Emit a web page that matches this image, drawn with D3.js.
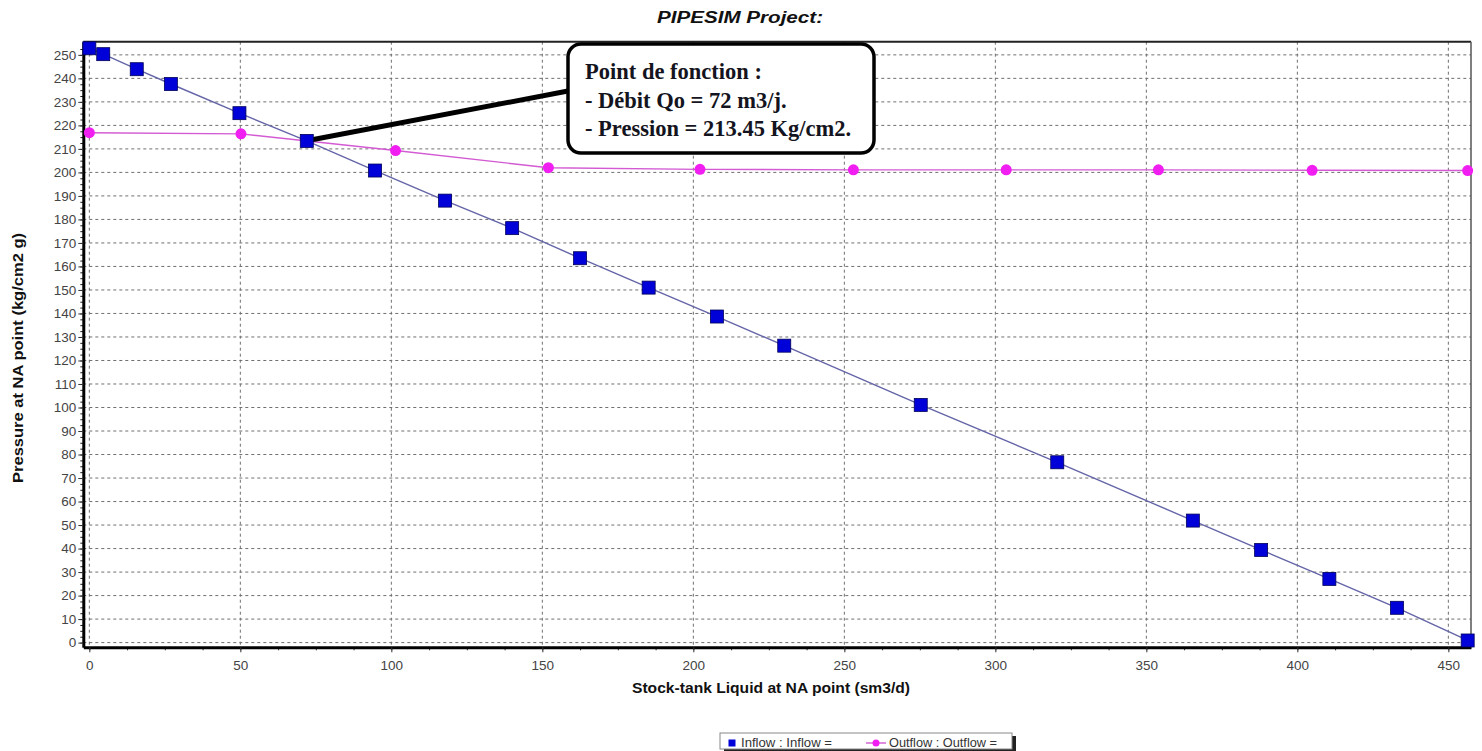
<!DOCTYPE html>
<html lang="en">
  <head>
    <meta charset="UTF-8" />
    <title>PIPESIM Project</title>
    <style>
      body { margin: 0; background: #fff; }
      svg { display: block; font-family: "Liberation Sans", Arial, sans-serif; }
    </style>
  </head>
  <body>
    <div class="chart"></div>
    <script src="https://d3js.org/d3.v7.min.js"></script>
    <script>
      // données
      const inflowQ = [0, 4.6, 15.7, 27, 49.7, 72, 94.6, 117.8, 140, 162.5, 185.2, 207.8, 230.1, 275.3, 320.5, 365.4, 388, 410.6, 433, 456.4];
      const inflowP = [252.8, 250.3, 243.9, 237.6, 225.2, 213.4, 200.8, 188, 176.3, 163.5, 151, 138.7, 126.3, 101.1, 76.7, 51.9, 39.4, 27.1, 14.8, 0.9];

      const outflowQ = [0, 50.2, 101.4, 152, 202.2, 253, 303.6, 354, 404.9, 456.4];
      const outflowP = [216.9, 216.4, 209.3, 202, 201.3, 201.1, 201.1, 201.1, 200.9, 200.8];

      const xTicks = [0, 50, 100, 150, 200, 250, 300, 350, 400, 450];
      const yTicks = d3.range(0, 251, 10);

      const opQ = 72;
      const opP = 213.45;
      const noteLines = ["Point de fonction :", "- Débit Qo = 72 m3/j.", "- Pression = 213.45 Kg/cm2."];

      const titleText = "PIPESIM Project:";
      const xLabel = "Stock-tank Liquid at NA point (sm3/d)";
      const yLabel = "Pressure at NA point (kg/cm2 g)";
      const legendLabels = ["Inflow : Inflow =", "Outflow : Outflow ="];

      const drawChart = () => {
        const width = 1482;
        const height = 751;
        const left = 83.3, right = 1471, top = 41.7, bottom = 647.3;

        const svg = d3
          .select(".chart")
          .append("svg")
          .attr("width", width)
          .attr("height", height);

        const xScale = d3.scaleLinear().domain([-2, 457.5]).range([left, right]);
        const yScale = d3.scaleLinear().domain([-2, 255.6]).range([bottom, top]);

        // grille pointillée
        const grid = svg.append("g");
        grid.selectAll(".gy")
          .data(yTicks)
          .join("line")
          .attr("x1", left)
          .attr("x2", right)
          .attr("y1", (d) => yScale(d))
          .attr("y2", (d) => yScale(d))
          .attr("stroke", "#6f6f6f")
          .attr("stroke-dasharray", "3,3");
        grid.selectAll(".gx")
          .data(xTicks)
          .join("line")
          .attr("x1", (d) => xScale(d))
          .attr("x2", (d) => xScale(d))
          .attr("y1", top)
          .attr("y2", bottom)
          .attr("stroke", "#6f6f6f")
          .attr("stroke-dasharray", "3,3");

        // cadre haut / droite
        svg.append("line").attr("x1", left).attr("x2", right).attr("y1", top).attr("y2", top)
          .attr("stroke", "#222").attr("stroke-width", 2);
        svg.append("line").attr("x1", right).attr("x2", right).attr("y1", top).attr("y2", bottom)
          .attr("stroke", "#555").attr("stroke-width", 1.5);

        // axes
        const yMinor = svg.append("g")
          .attr("transform", `translate(${left},0)`)
          .call(d3.axisLeft(yScale).tickValues(d3.range(0, 255, 2.5)).tickSize(3).tickFormat(""));
        yMinor.select(".domain").remove();
        yMinor.selectAll("line").attr("stroke", "#222");

        const xMinor = svg.append("g")
          .attr("transform", `translate(0,${bottom})`)
          .call(d3.axisBottom(xScale).tickValues(d3.range(0, 457, 12.5)).tickSize(3).tickFormat(""));
        xMinor.select(".domain").remove();
        xMinor.selectAll("line").attr("stroke", "#333");

        const yAxis = svg.append("g")
          .attr("transform", `translate(${left},0)`)
          .call(d3.axisLeft(yScale).tickValues(yTicks).tickSize(5).tickSizeOuter(0).tickPadding(2));
        yAxis.select(".domain").attr("stroke", "#000").attr("stroke-width", 3);
        yAxis.selectAll(".tick line").attr("stroke", "#333");
        yAxis.selectAll("text").attr("font-size", 13.5).attr("fill", "#444")
          .attr("font-family", "Liberation Sans, Arial, sans-serif");

        const xAxis = svg.append("g")
          .attr("transform", `translate(0,${bottom})`)
          .call(d3.axisBottom(xScale).tickValues(xTicks).tickSize(5).tickSizeOuter(0).tickPadding(8));
        xAxis.select(".domain").attr("stroke", "#000").attr("stroke-width", 3);
        xAxis.selectAll(".tick line").attr("stroke", "#333");
        xAxis.selectAll("text").attr("font-size", 13.5).attr("fill", "#444")
          .attr("font-family", "Liberation Sans, Arial, sans-serif");

        // séries
        const inflow = inflowQ.map((q, i) => ({ q, p: inflowP[i] }));
        const outflow = outflowQ.map((q, i) => ({ q, p: outflowP[i] }));
        const line = d3.line().x((d) => xScale(d.q)).y((d) => yScale(d.p));

        svg.append("path").datum(inflow).attr("d", line)
          .attr("fill", "none").attr("stroke", "#6464a8").attr("stroke-width", 1.4);
        svg.append("path").datum(outflow).attr("d", line)
          .attr("fill", "none").attr("stroke", "#d35ad3").attr("stroke-width", 1.4);

        svg.append("g").selectAll("circle")
          .data(outflow)
          .join("circle")
          .attr("cx", (d) => xScale(d.q))
          .attr("cy", (d) => yScale(d.p))
          .attr("r", 5.5)
          .attr("fill", "#f01ef0");

        // trait vers l'annotation
        svg.append("line")
          .attr("x1", xScale(opQ)).attr("y1", yScale(opP))
          .attr("x2", 568).attr("y2", 91)
          .attr("stroke", "#000").attr("stroke-width", 5);

        const sq = 13;
        svg.append("g").selectAll("rect")
          .data(inflow)
          .join("rect")
          .attr("x", (d) => xScale(d.q) - sq / 2)
          .attr("y", (d) => yScale(d.p) - sq / 2)
          .attr("width", sq)
          .attr("height", sq)
          .attr("fill", "#0000d8")
          .attr("stroke", "#00005a")
          .attr("stroke-width", 0.8);

        // boîte d'annotation
        svg.append("rect")
          .attr("x", 568).attr("y", 44).attr("width", 306).attr("height", 109)
          .attr("rx", 13)
          .attr("fill", "#fff").attr("stroke", "#000").attr("stroke-width", 3.5);
        svg.append("g").selectAll("text")
          .data(noteLines)
          .join("text")
          .attr("x", 585)
          .attr("y", (d, i) => 79 + i * 28.5)
          .attr("font-family", "Liberation Serif, Times New Roman, serif")
          .attr("font-weight", "bold")
          .attr("font-size", 22.5)
          .attr("fill", "#141420")
          .text((d) => d);

        // titres
        svg.append("text")
          .attr("x", 740).attr("y", 23)
          .attr("text-anchor", "middle")
          .attr("font-size", 16).attr("font-weight", "bold").attr("font-style", "italic")
          .attr("textLength", 166).attr("lengthAdjust", "spacingAndGlyphs")
          .attr("fill", "#111")
          .text(titleText);

        svg.append("text")
          .attr("x", 771).attr("y", 693)
          .attr("text-anchor", "middle")
          .attr("font-size", 14).attr("font-weight", "bold")
          .attr("textLength", 278).attr("lengthAdjust", "spacingAndGlyphs")
          .attr("fill", "#111")
          .text(xLabel);

        svg.append("text")
          .attr("transform", "translate(23,358) rotate(-90)")
          .attr("text-anchor", "middle")
          .attr("font-size", 14).attr("font-weight", "bold")
          .attr("textLength", 250).attr("lengthAdjust", "spacingAndGlyphs")
          .attr("fill", "#111")
          .text(yLabel);

        // légende
        const lg = svg.append("g");
        lg.append("rect").attr("x", 724).attr("y", 736).attr("width", 292).attr("height", 15).attr("fill", "#222");
        lg.append("rect").attr("x", 720).attr("y", 733).attr("width", 292).attr("height", 16)
          .attr("fill", "#fff").attr("stroke", "#888").attr("stroke-width", 1);
        lg.append("rect").attr("x", 728.5).attr("y", 739.5).attr("width", 7).attr("height", 7).attr("fill", "#0000d8");
        lg.append("line").attr("x1", 866).attr("x2", 886).attr("y1", 743).attr("y2", 743)
          .attr("stroke", "#d35ad3").attr("stroke-width", 1.4);
        lg.append("circle").attr("cx", 876).attr("cy", 743).attr("r", 3.5).attr("fill", "#f01ef0");
        lg.selectAll("text")
          .data(legendLabels)
          .join("text")
          .attr("x", (d, i) => (i === 0 ? 741 : 889))
          .attr("y", 747)
          .attr("font-size", 12)
          .attr("textLength", (d, i) => (i === 0 ? 91 : 108))
          .attr("lengthAdjust", "spacingAndGlyphs")
          .attr("fill", "#333")
          .text((d) => d);
      };

      drawChart();
    </script>
  </body>
</html>
